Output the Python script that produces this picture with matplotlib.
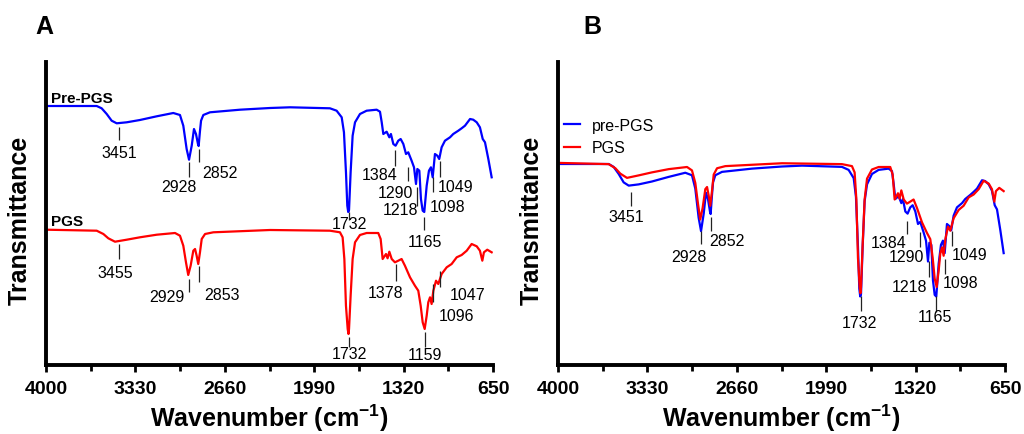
import matplotlib
matplotlib.use("Agg")
import matplotlib.pyplot as plt
from matplotlib.ticker import FixedLocator

plt.rcParams['font.family'] = ['Liberation Sans', 'DejaVu Sans']
plt.rcParams['mathtext.fontset'] = 'custom'
plt.rcParams['mathtext.rm'] = 'Liberation Sans'
plt.rcParams['mathtext.bf'] = 'Liberation Sans:bold'

# ---------------- data (transmittance, a.u., 0 = baseline) ----------------
wn_pre = [4000, 3620, 3583, 3545, 3508, 3470, 3395, 3296, 3170, 3046, 2996, 2971,
          2946, 2928, 2908, 2891, 2876, 2861, 2856, 2846, 2838, 2821, 2771, 2546,
          2321, 2171, 1872, 1822, 1784, 1767, 1752, 1742, 1735, 1729, 1717, 1702,
          1684, 1647, 1597, 1522, 1497, 1484, 1472, 1447, 1427, 1415, 1397, 1380,
          1360, 1342, 1322, 1302, 1285, 1260, 1242, 1227, 1217, 1202, 1190, 1177,
          1165, 1147, 1130, 1115, 1102, 1085, 1067, 1053, 1035, 1010, 972, 948,
          910, 885, 860, 822, 798, 772, 748, 727, 710, 685, 660]
t_pre = [0, 0, -2.3, -8, -14.7, -17.3, -16.3, -14, -10.3, -7, -9, -19.7,
         -43, -53.7, -39.7, -23, -28, -38, -40, -25, -14.7, -9, -6.3, -3.7,
         -2, -1.3, -2.3, -4.7, -11.3, -26.3, -66, -99.7, -106, -104, -66.3, -29.7,
         -16.3, -8, -4.7, -3.7, -5.7, -16.3, -28, -25.7, -31.3, -28, -38, -39.7,
         -34.7, -33, -38, -48, -46.3, -54.7, -61.3, -78, -63, -64.7, -93, -104.7,
         -106, -79.7, -64.7, -61.3, -71.3, -48, -49.7, -53, -41.3, -34.7, -31.3, -28,
         -24.7, -22.3, -19.7, -13, -13.7, -16.3, -21.3, -33, -36.3, -53, -71.3]

wn_pgs = [4000, 3620, 3570, 3533, 3483, 3395, 3296, 3170, 3033, 2996, 2971, 2951,
          2934, 2916, 2896, 2883, 2871, 2859, 2846, 2833, 2808, 2746, 2321, 1872,
          1797, 1777, 1764, 1752, 1739, 1733, 1729, 1717, 1702, 1684, 1647, 1597,
          1510, 1492, 1477, 1452, 1440, 1427, 1409, 1385, 1360, 1335, 1310, 1272,
          1235, 1210, 1192, 1177, 1162, 1147, 1135, 1122, 1110, 1097, 1077, 1060,
          1035, 997, 960, 922, 885, 847, 810, 772, 748, 730, 718, 693, 660]
t_pgs = [-0.7, -1.7, -5, -9.3, -12.7, -10.7, -8.3, -5.7, -4, -6.7, -16.7, -33.3,
         -46, -36.7, -21.7, -20, -26.7, -35, -23.3, -10, -5, -3.3, -1, -1.7,
         -3.3, -8.3, -30, -76.7, -100, -105, -100, -66.7, -30, -13.3, -6, -4,
         -4, -10, -30, -25, -29.3, -22.7, -30, -33.3, -31.7, -30, -36.7, -48.3,
         -56.7, -61.7, -76.7, -93.3, -100, -86.7, -73.3, -68.3, -75, -61.7, -51.7, -55,
         -45, -38.3, -35, -28.3, -26, -21.7, -15, -17.3, -21.7, -31.7, -23.3, -20.7, -23.3]

x_ticks = [4000, 3330, 2660, 1990, 1320, 650]
x_minor = [3665, 2995, 2325, 1655, 985]

# peak labels: (wavenumber label, line top, line bottom, text x, text y)
peaks_pre_A = [("3451", -21, -34, 3451, -46), ("2928", -56, -71, 3003, -81),
               ("2852", -43, -56, 2696, -66), ("1384", -44, -60, 1501, -69),
               ("1290", -61, -75, 1381, -86), ("1218", -81, -100, 1343, -104),
               ("1165", -111, -124, 1160, -136), ("1098", -71, -86, 987, -101),
               ("1049", -55, -71, 931, -81), ("1732", -106, -114, 1729, -118)]
peaks_pgs_A = [("3455", -138, -153, 3483, -166), ("2929", -173, -186, 3097, -190),
               ("2853", -160, -176, 2681, -188), ("1378", -158, -175, 1452, -186),
               ("1732", -231, -241, 1729, -248), ("1159", -226, -241, 1160, -249),
               ("1096", -178, -196, 920, -210), ("1047", -165, -181, 841, -188)]
peaks_B = [("3451", -28, -42, 3490, -53), ("2928", -67, -80, 3018, -92),
           ("2852", -53, -67, 2733, -76), ("1384", -57, -70, 1519, -78),
           ("1290", -68, -83, 1388, -93), ("1218", -97, -113, 1362, -122),
           ("1165", -132, -148, 1175, -153), ("1098", -95, -110, 984, -118),
           ("1049", -67, -82, 916, -91), ("1732", -132, -147, 1744, -158)]

BLUE = '#0000ff'
RED = '#ff0000'

fig = plt.figure(figsize=(10.24, 4.35), dpi=100)
axA = fig.add_axes([46/1024, 1-366/435, 447/1024, 303/435])
axB = fig.add_axes([558/1024, 1-366/435, 447/1024, 303/435])


def style(ax):
    ax.set_xlim(4000, 650)
    for s in ['top', 'right']:
        ax.spines[s].set_visible(False)
    for s in ['left', 'bottom']:
        ax.spines[s].set_linewidth(2.8)
    ax.set_yticks([])
    ax.xaxis.set_major_locator(FixedLocator(x_ticks))
    ax.xaxis.set_minor_locator(FixedLocator(x_minor))
    ax.set_xticklabels([str(v) for v in x_ticks], fontsize=14, fontweight='bold')
    ax.tick_params(axis='x', which='major', direction='out', length=5, width=2, pad=6)
    ax.tick_params(axis='x', which='minor', direction='out', length=4, width=2)
    ax.set_xlabel(r'Wavenumber (cm$^{\mathbf{-1}}$)', fontsize=18, fontweight='bold', labelpad=3)
    ax.set_ylabel('Transmittance', fontsize=18, fontweight='bold')
    ax.yaxis.set_label_coords(-0.031, 0.479)


def annotate(ax, peaks):
    for txt, y0, y1, tx, ty in peaks:
        w = float(txt)
        ax.plot([w, w], [y0, y1], color='#222222', lw=0.9, solid_capstyle='butt')
        ax.text(tx, ty, txt, fontsize=11.5, ha='center', va='center', color='black')


# ---- Panel A ----
off_pgs_A = -123
axA.plot(wn_pre, t_pre, color=BLUE, lw=1.6)
axA.plot(wn_pgs, [v + off_pgs_A for v in t_pgs], color=RED, lw=1.6)
axA.set_ylim(-259, 44)
style(axA)
annotate(axA, peaks_pre_A)
annotate(axA, peaks_pgs_A)
axA.text(3965, 8, 'Pre-PGS', fontsize=11, fontweight='bold', ha='left', va='center')
axA.text(3965, -115, 'PGS', fontsize=11, fontweight='bold', ha='left', va='center')

# ---- Panel B ----
scaleB = 1.25
axB.plot(wn_pre, [v * scaleB for v in t_pre], color=BLUE, lw=1.6, label='pre-PGS')
axB.plot(wn_pgs, [v * scaleB + 2 for v in t_pgs], color=RED, lw=1.6, label='PGS')
axB.set_ylim(-201, 102)
style(axB)
annotate(axB, peaks_B)
axB.legend(loc='upper left', bbox_to_anchor=(0.013, 0.815), frameon=False,
           fontsize=11.5, handlelength=1.0, handletextpad=0.75, labelspacing=0.45,
           borderpad=0, borderaxespad=0)

fig.text(44/1024, 1-27/435, 'A', fontsize=18, fontweight='bold', ha='center', va='center')
fig.text(592/1024, 1-27/435, 'B', fontsize=18, fontweight='bold', ha='center', va='center')

fig.savefig('out.png', dpi=100)
